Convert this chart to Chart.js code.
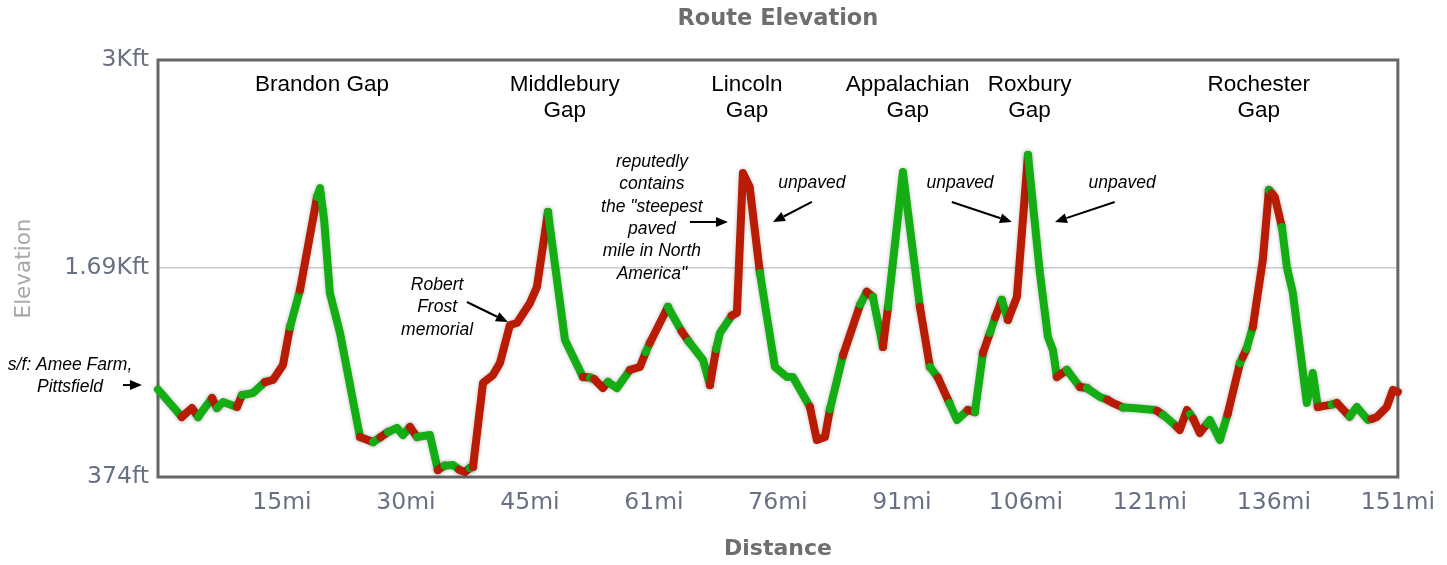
<!DOCTYPE html>
<html>
<head>
<meta charset="utf-8">
<script src="https://cdn.jsdelivr.net/npm/chart.js@4.4.1/dist/chart.umd.min.js"></script>
<style>
  html, body { margin: 0; padding: 0; background: #fff; }
  #wrap { width: 1447px; height: 565px; }
</style>
</head>
<body>
<div id="wrap"><canvas id="chartElevation"></canvas></div>
<script>
Chart.defaults.animation = false;

// profile: distance (mi), elevation (ft), grade colour of the segment starting at each point
const distMi = [
  0, 2.9, 4.15, 4.9, 6.6, 7.2, 7.95, 9.65, 10.26, 11.6,
  13.07, 14.05, 15.27, 16.13, 17.35, 19.43, 19.8, 20.3, 21.0, 22.24,
  24.68, 26.27, 27.2, 28.1, 29.2, 29.93, 30.79, 31.64, 33.23, 34.2,
  35.0, 36.04, 36.8, 37.5, 38.1, 38.49, 39.71, 40.93, 41.78, 43.0,
  43.86, 45.45, 46.3, 47.65, 49.73, 51.92, 52.8, 53.3, 54.37, 54.98,
  56.08, 57.66, 58.88, 59.6, 60.1, 62.3, 64.0, 64.8, 66.6, 67.44,
  68.2, 68.66, 70.1, 70.74, 71.47, 72.3, 73.55, 75.38, 76.85, 77.58,
  79.66, 80.5, 81.5, 82.1, 83.7, 85.8, 86.6, 87.35, 88.58, 89.2,
  91.02, 93.1, 94.32, 95.3, 96.7, 97.62, 98.96, 99.82, 100.8, 101.65,
  102.3, 103.1, 103.85, 104.95, 106.3, 107.76, 108.74, 109.35, 109.84, 111.06,
  112.65, 113.5, 115.1, 116.0, 116.68, 117.9, 119.12, 121.8, 122.1, 122.8,
  123.27, 124.5, 124.86, 125.72, 126.1, 126.5, 127.3, 128.2, 128.53, 129.75,
  130.7, 132.2, 132.56, 133.0, 133.78, 135.0, 135.74, 136.1, 136.47, 137.33,
  137.94, 138.67, 140.38, 141.11, 141.72, 143.4, 144.05, 145.6, 146.49, 147.83,
  148.3, 148.93, 150.15, 150.9, 151.5
];
const elevFt = [
  925, 752, 809, 752, 871, 809, 846, 815, 890, 903,
  972, 985, 1079, 1319, 1552, 2137, 2194, 1993, 1533, 1281,
  626, 594, 625, 657, 683, 638, 689, 626, 638, 418,
  445, 450, 420, 405, 430, 437, 966, 1016, 1092, 1331,
  1344, 1470, 1570, 2043, 1237, 1004, 1000, 990, 934, 972,
  934, 1048, 1067, 1160, 1218, 1445, 1290, 1230, 1111, 953,
  1180, 1281, 1390, 1407, 2289, 2200, 1659, 1067, 1004, 1004,
  815, 607, 626, 800, 1140, 1460, 1540, 1508, 1193, 1445,
  2295, 1445, 1067, 1000, 840, 733, 796, 783, 1155, 1281,
  1380, 1489, 1363, 1508, 2402, 1659, 1256, 1174, 1004, 1048,
  941, 934, 878, 860, 840, 812, 808, 796, 790, 765,
  746, 690, 670, 796, 770, 740, 651, 710, 733, 607,
  770, 1090, 1130, 1180, 1319, 1741, 2181, 2160, 2137, 1948,
  1696, 1533, 840, 1029, 815, 830, 840, 755, 815, 733,
  740, 752, 815, 922, 909
];
const grade = [
  'g','r','r','g','r','g','g','r','g','g',
  'r','r','r','g','r','g','g','g','g','g',
  'r','g','r','g','g','g','r','g','g','r',
  'g','g','r','r','g','r','r','r','r','r',
  'r','r','r','g','g','r','g','r','r','g',
  'g','r','r','g','r','g','r','g','g','r',
  'g','g','r','r','r','r','g','g','g','g',
  'r','r','r','g','r','g','r','g','r','g',
  'g','r','g','r','g','g','r','g','r','g',
  'r','g','r','r','g','g','g','g','r','g',
  'r','g','g','r','r','g','g','g','r','g',
  'g','r','r','r','g','r','r','g','g','g',
  'r','g','r','g','r','r','g','r','r','g',
  'g','g','g','g','r','g','r','g','g','g',
  'r','r','r','r','g'
];

const xTickValues = [15.15, 30.3, 45.45, 60.6, 75.75, 90.9, 106.05, 121.2, 136.35, 151.5];
const xTickLabels = ['15mi', '30mi', '45mi', '61mi', '76mi', '91mi', '106mi', '121mi', '136mi', '151mi'];
const yTickValues = [374, 1690, 3000];
const yTickLabels = ['374ft', '1.69Kft', '3Kft'];

const RED = '#b81c04';
const GREEN = '#14ad14';
const TICK_COLOR = '#687184';

// annotation text, anchored in data units
const gapNotes = [
  { mi: 20.04, ft: 2842, lines: ['Brandon Gap'] },
  { mi: 49.7, ft: 2842, lines: ['Middlebury', 'Gap'] },
  { mi: 71.96, ft: 2842, lines: ['Lincoln', 'Gap'] },
  { mi: 91.6, ft: 2842, lines: ['Appalachian', 'Gap'] },
  { mi: 106.5, ft: 2842, lines: ['Roxbury', 'Gap'] },
  { mi: 134.5, ft: 2842, lines: ['Rochester', 'Gap'] }
];
const italicNotes = [
  { mi: 60.35, ft: 2358, lines: ['reputedly', 'contains', 'the "steepest', 'paved', 'mile in North', 'America"'] },
  { mi: 79.9, ft: 2225, lines: ['unpaved'] },
  { mi: 98.0, ft: 2225, lines: ['unpaved'] },
  { mi: 117.8, ft: 2225, lines: ['unpaved'] },
  { mi: 34.1, ft: 1583, lines: ['Robert', 'Frost', 'memorial'] },
  { mi: -10.75, ft: 1079, lines: ['s/f: Amee Farm,', 'Pittsfield'] }
];
const arrows = [
  [-4.28, 953, -1.96, 953],
  [37.75, 1476, 42.76, 1350],
  [65.0, 1980, 69.64, 1980],
  [79.9, 2106, 75.14, 1980],
  [97.0, 2106, 104.34, 1980],
  [116.9, 2106, 109.6, 1980]
];

function drawArrow(ctx, x1, y1, x2, y2) {
  const a = Math.atan2(y2 - y1, x2 - x1);
  const h = 12, w = 5;
  ctx.beginPath();
  ctx.moveTo(x1, y1);
  ctx.lineTo(x2 - h * Math.cos(a), y2 - h * Math.sin(a));
  ctx.lineWidth = 2;
  ctx.stroke();
  ctx.beginPath();
  ctx.moveTo(x2, y2);
  ctx.lineTo(x2 - h * Math.cos(a) + w * Math.sin(a), y2 - h * Math.sin(a) - w * Math.cos(a));
  ctx.lineTo(x2 - h * Math.cos(a) - w * Math.sin(a), y2 - h * Math.sin(a) + w * Math.cos(a));
  ctx.closePath();
  ctx.fill();
}

const notesPlugin = {
  id: 'notes',
  beforeDatasetsDraw(chart) {
    const { ctx, chartArea: a } = chart;
    ctx.save();
    ctx.strokeStyle = '#666';
    ctx.lineWidth = 3;
    ctx.strokeRect(a.left, a.top, a.right - a.left, a.bottom - a.top);
    ctx.restore();
  },
  beforeDatasetDraw(chart) {
    chart.ctx.save();
    chart.ctx.shadowColor = 'rgba(0,0,0,0.25)';
    chart.ctx.shadowBlur = 4;
  },
  afterDatasetDraw(chart) {
    chart.ctx.restore();
  },
  afterDraw(chart) {
    const { ctx, scales: { x, y } } = chart;
    ctx.save();
    ctx.fillStyle = '#000';
    ctx.strokeStyle = '#000';
    ctx.textAlign = 'center';
    ctx.textBaseline = 'middle';

    ctx.font = '22.5px "Liberation Sans", Arial, sans-serif';
    gapNotes.forEach(n => {
      const px = x.getPixelForValue(n.mi), py = y.getPixelForValue(n.ft);
      n.lines.forEach((t, i) => ctx.fillText(t, px, py + i * 26));
    });

    ctx.font = 'italic 17.5px "Liberation Sans", Arial, sans-serif';
    italicNotes.forEach(n => {
      const px = x.getPixelForValue(n.mi), py = y.getPixelForValue(n.ft);
      n.lines.forEach((t, i) => ctx.fillText(t, px, py + i * 22.4));
    });

    arrows.forEach(([m1, f1, m2, f2]) => {
      drawArrow(ctx, x.getPixelForValue(m1), y.getPixelForValue(f1),
        x.getPixelForValue(m2), y.getPixelForValue(f2));
    });
    ctx.restore();
  }
};

const ctxElev = document.getElementById('chartElevation');

new Chart(ctxElev, {
  type: 'line',
  data: {
    datasets: [{
      label: 'Elevation',
      data: distMi.map((d, i) => ({ x: d, y: elevFt[i] })),
      borderColor: GREEN,
      borderWidth: 8,
      borderCapStyle: 'round',
      borderJoinStyle: 'round',
      pointRadius: 0,
      tension: 0,
      clip: 10,
      segment: {
        borderColor: (c) => grade[c.p0DataIndex] === 'r' ? RED : GREEN
      }
    }]
  },
  options: {
    responsive: true,
    maintainAspectRatio: false,
    animation: false,
    layout: { padding: { left: 0, right: 49, top: 0, bottom: 0 } },
    plugins: {
      legend: { display: false },
      tooltip: { enabled: false },
      title: {
        display: true,
        text: 'Route Elevation',
        fullSize: false,
        color: '#6e6e6e',
        font: { family: 'DejaVu Sans', size: 22.5, weight: 'bold' },
        padding: { top: 6, bottom: 27 }
      }
    },
    scales: {
      x: {
        type: 'linear',
        min: 0,
        max: 151.5,
        afterBuildTicks: (s) => { s.ticks = xTickValues.map(v => ({ value: v })); },
        afterFit: (s) => { s.height = 88; },
        ticks: {
          callback: (v, i) => xTickLabels[i],
          color: TICK_COLOR,
          font: { family: 'DejaVu Sans', size: 23.5 },
          padding: 12,
          maxRotation: 0,
          autoSkip: false
        },
        grid: { display: false, drawTicks: false },
        border: { display: false },
        title: {
          display: true,
          text: 'Distance',
          color: '#6e6e6e',
          font: { family: 'DejaVu Sans', size: 22, weight: 'bold' },
          padding: { top: 0, bottom: 3 }
        }
      },
      y: {
        type: 'linear',
        min: 374,
        max: 3000,
        afterBuildTicks: (s) => { s.ticks = yTickValues.map(v => ({ value: v })); },
        afterFit: (s) => { s.width = 158; },
        ticks: {
          callback: (v, i) => yTickLabels[i],
          color: TICK_COLOR,
          font: { family: 'DejaVu Sans', size: 23.5 },
          padding: 9
        },
        grid: {
          color: (c) => (c.tick && c.tick.value === 1690) ? '#cccccc' : 'rgba(0,0,0,0)',
          lineWidth: 1.5,
          drawTicks: false
        },
        border: { display: false },
        title: {
          display: true,
          text: 'Elevation',
          color: '#a8a8a8',
          font: { family: 'DejaVu Sans', size: 21.5 },
          padding: { top: 12, bottom: 0 }
        }
      }
    }
  },
  plugins: [notesPlugin]
});
</script>
</body>
</html>
